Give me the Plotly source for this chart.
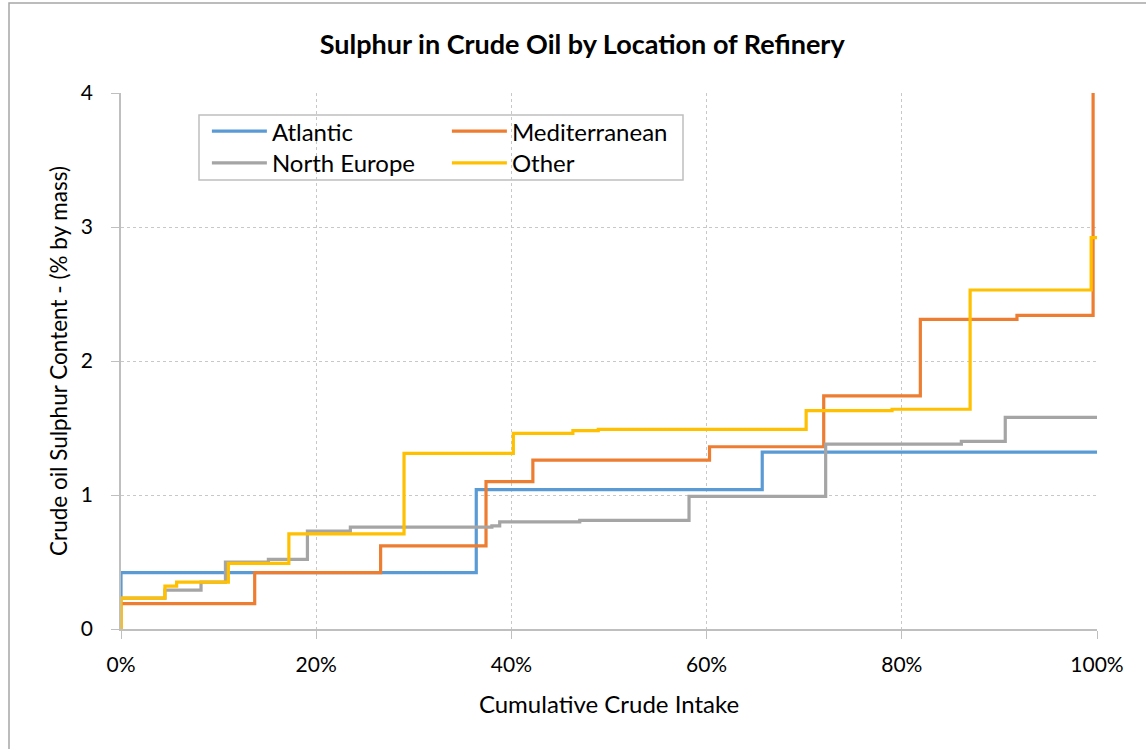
import plotly.graph_objects as go

# Cumulative crude intake (%) and sulphur content (% by mass), step data
atl_x = [0, 0, 36.4, 65.7, 100]
atl_y = [0.23, 0.42, 1.04, 1.32, 1.32]

med_x = [0, 0, 13.7, 26.6, 37.4, 42.2, 60.3, 72.0, 81.9, 91.8, 99.6]
med_y = [0, 0.19, 0.42, 0.62, 1.10, 1.26, 1.36, 1.74, 2.31, 2.34, 4.2]

neu_x = [0, 0, 4.5, 8.2, 10.7, 15.1, 19.1, 23.5, 38.0, 38.8, 47.0, 58.2, 72.2, 86.1, 90.6, 100]
neu_y = [0.20, 0.23, 0.29, 0.35, 0.50, 0.52, 0.73, 0.76, 0.77, 0.80, 0.81, 0.99, 1.38, 1.40, 1.58, 1.58]

oth_x = [0, 0, 4.5, 5.7, 11.0, 17.2, 29.0, 40.2, 46.3, 48.9, 70.2, 79.0, 87.0, 99.4, 100]
oth_y = [0, 0.23, 0.32, 0.35, 0.49, 0.71, 1.31, 1.46, 1.48, 1.49, 1.63, 1.64, 2.53, 2.92, 2.92]

FONT = "Lato"
fig = go.Figure()
series = [
    ("Atlantic", atl_x, atl_y, "#5B9BD5", "legend"),
    ("Mediterranean", med_x, med_y, "#ED7D31", "legend"),
    ("North Europe", neu_x, neu_y, "#A5A5A5", "legend2"),
    ("Other", oth_x, oth_y, "#FFC000", "legend2"),
]
for name, xs, ys, col, lg in series:
    fig.add_trace(go.Scatter(x=xs, y=ys, name=name, mode="lines",
                             line=dict(color=col, width=3.2, shape="hv"), legend=lg))

axis_common = dict(showgrid=True, gridcolor="#C8C8C8", griddash="dot", gridwidth=1,
                   showline=True, linecolor="#BFBFBF", linewidth=1.5,
                   ticks="outside", ticklen=8, tickcolor="#BFBFBF",
                   zeroline=False, tickfont=dict(size=21))

fig.update_layout(
    width=1146, height=749,
    margin=dict(l=121, r=49, t=93, b=120),
    paper_bgcolor="white", plot_bgcolor="white",
    font=dict(family=FONT, size=22, color="#000000"),
    title=dict(text="<b>Sulphur in Crude Oil by Location of Refinery</b>",
               x=0.508, xanchor="center", y=0.94, yanchor="middle",
               font=dict(family=FONT, size=27, color="#000000")),
    xaxis=dict(range=[0, 100], dtick=20, ticksuffix="%", ticklabelstandoff=8,
               title=dict(text="Cumulative Crude Intake", standoff=21, font=dict(size=24)),
               **axis_common),
    yaxis=dict(range=[0, 4], dtick=1, ticklabelstandoff=14,
               title=dict(text="Crude oil Sulphur Content - (% by mass)", standoff=7, font=dict(size=22.5)),
               **axis_common),
    legend=dict(orientation="h", x=0.088, y=0.970, xanchor="left", yanchor="top",
                bgcolor="rgba(0,0,0,0)", entrywidth=170, font=dict(size=24),
                tracegroupgap=0, itemwidth=55),
    legend2=dict(orientation="h", x=0.088, y=0.911, xanchor="left", yanchor="top",
                 bgcolor="rgba(0,0,0,0)", entrywidth=170, font=dict(size=24),
                 tracegroupgap=0, itemwidth=55),
    shapes=[
        dict(type="rect", xref="paper", yref="paper",
             x0=(199 - 121) / 976, x1=(683 - 121) / 976,
             y0=(629 - 180) / 536, y1=(629 - 115) / 536,
             line=dict(color="#BFBFBF", width=1.5), fillcolor="white", layer="below"),
        dict(type="rect", xref="paper", yref="paper",
             x0=(9 - 121) / 976, x1=(1160 - 121) / 976,
             y0=(629 - 760) / 536, y1=(629 - 3) / 536,
             line=dict(color="#A6A6A6", width=1.5), fillcolor="rgba(0,0,0,0)", layer="below"),
    ],
)
fig.write_html("out.html", config={"displayModeBar": False},
               post_script="document.body.style.margin='0';document.body.style.overflow='hidden';")
